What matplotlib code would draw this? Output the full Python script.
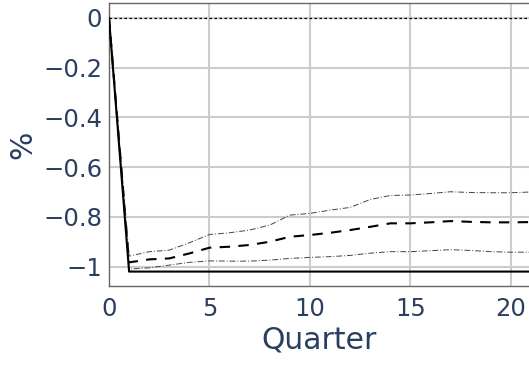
import matplotlib
matplotlib.use("Agg")
import matplotlib.pyplot as plt

quarters = list(range(0, 22))
actual = [0.0] + [-1.02] * 21
median = [0.0, -0.983, -0.971, -0.967, -0.947, -0.924, -0.920, -0.913, -0.900, -0.880, -0.873,
          -0.864, -0.853, -0.840, -0.826, -0.826, -0.822, -0.817, -0.820, -0.822, -0.822, -0.821]
upper = [0.0, -0.958, -0.940, -0.934, -0.904, -0.871, -0.864, -0.853, -0.833, -0.793, -0.786,
         -0.773, -0.762, -0.730, -0.714, -0.712, -0.706, -0.699, -0.702, -0.703, -0.703, -0.700]
lower = [0.0, -1.010, -1.005, -0.994, -0.983, -0.977, -0.978, -0.978, -0.974, -0.967, -0.963,
         -0.960, -0.955, -0.946, -0.940, -0.940, -0.936, -0.932, -0.935, -0.940, -0.942, -0.942]
xticks = [0, 5, 10, 15, 20]
yticks = [0, -0.2, -0.4, -0.6, -0.8, -1]
ytick_labels = ["0", "\u22120.2", "\u22120.4", "\u22120.6", "\u22120.8", "\u22121"]

W, H = 529, 365
fig = plt.figure(figsize=(W / 100, H / 100), dpi=100)
left, right, top, bottom = 109, 529, 3, 286
ax = fig.add_axes([left / W, 1 - bottom / H, (right - left) / W, (bottom - top) / H])

text_color = "#2a3f5f"
ax.axhline(0, color="black", lw=0.9, ls=(0, (2, 2)), zorder=2)
ax.plot(quarters, actual, color="black", lw=1.5, zorder=4)
ax.plot(quarters, median, color="black", lw=1.5, ls=(0, (5, 4)), zorder=3)
ax.plot(quarters, upper, color="#444444", lw=0.7, ls=(0, (6, 2, 1, 2)), zorder=3)
ax.plot(quarters, lower, color="#444444", lw=0.7, ls=(0, (6, 2, 1, 2)), zorder=3)

ax.set_xlim(0, 20.9)
ax.set_ylim(-1.078, 0.060)
ax.set_xticks(xticks)
ax.set_yticks(yticks)
ax.set_yticklabels(ytick_labels)
ax.grid(True, color="#cccccc", lw=1.5, zorder=0)
ax.set_axisbelow(True)
for s in ["left", "bottom", "top"]:
    ax.spines[s].set_color("#666666")
    ax.spines[s].set_linewidth(1.0)
ax.spines["right"].set_visible(False)
ax.tick_params(axis="both", length=0, labelsize=17.5, labelcolor=text_color)
ax.tick_params(axis="y", pad=5)
ax.tick_params(axis="x", pad=8)
ax.set_xlabel("Quarter", fontsize=21.5, color=text_color, labelpad=3)
ax.set_ylabel("%", fontsize=21.5, color=text_color, labelpad=4)

fig.savefig("out.png", dpi=100)
